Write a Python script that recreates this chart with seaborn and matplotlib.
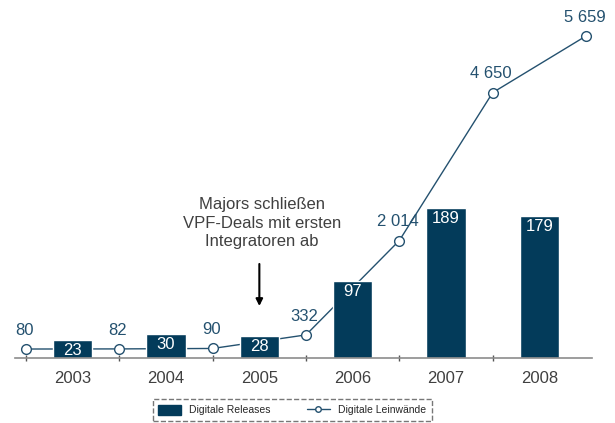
import matplotlib
matplotlib.use("Agg")
import matplotlib.pyplot as plt
import seaborn as sns
from matplotlib.patches import Patch
from matplotlib.lines import Line2D

years = ["2003", "2004", "2005", "2006", "2007", "2008"]
releases = [23, 30, 28, 97, 189, 179]
screens = [80, 82, 90, 332, 2014, 4650, 5659]
note = "Majors schließen\nVPF-Deals mit ersten\nIntegratoren ab"

bar_col = "#033b5a"
line_col = "#24516f"
txt_col = "#404040"

sns.set_theme(style="white")
plt.rcParams["font.family"] = ["Liberation Sans", "DejaVu Sans"]

fig = plt.figure(figsize=(6.15, 4.23), dpi=100)
# axes placed in pixel terms: x 15..592, baseline y=358, top y=20
ax = fig.add_axes([15 / 615, (423 - 358) / 423, 577 / 615, (358 - 20) / 423])

bar_x = list(range(len(years)))
sns.barplot(x=bar_x, y=releases, native_scale=True, width=0.42,
            color=bar_col, saturation=1, ax=ax)
ax.set_xlim(-0.618, 5.564)
ax.set_ylim(0, 426)

for x, v in zip(bar_x, releases):
    ax.annotate(str(v), (x, v), xytext=(0, -2), textcoords="offset points",
                ha="center", va="top", color="white", fontsize=12)

# line on a twin axis, drawn behind the bars
ax2 = ax.twinx()
ax.set_zorder(2)
ax.patch.set_visible(False)
ax2.set_zorder(1)
line_x = [i - 0.5 for i in range(len(screens))]
sns.lineplot(x=line_x, y=screens, ax=ax2, color=line_col, lw=1,
             marker="o", markersize=7, markerfacecolor="white",
             markeredgecolor=line_col, markeredgewidth=1)
ax2.set_ylim(-80, 5944)
for x, v in zip(line_x, screens):
    ax2.annotate(f"{v:,}".replace(",", " "), (x, v), xytext=(-1, 8),
                 textcoords="offset points", ha="center", va="bottom",
                 color=line_col, fontsize=12)

# annotation with arrow over 2005
ax.text(2.03, 137, note, ha="center", va="bottom", color=txt_col,
        fontsize=12, linespacing=1.3)
ax.annotate("", xy=(2.0, 62), xytext=(2.0, 122),
            arrowprops=dict(arrowstyle="-|>", color="black", lw=1.5,
                            mutation_scale=10))

for a in (ax, ax2):
    for s in ["top", "right", "left"]:
        a.spines[s].set_visible(False)
    a.set_yticks([])
    a.set_ylabel("")
ax2.spines["bottom"].set_visible(False)
ax.spines["bottom"].set_color("#8c8c8c")
ax.spines["bottom"].set_linewidth(1.2)

ax.set_xticks(bar_x)
ax.set_xticklabels(years, color=txt_col, fontsize=12)
ax.set_xticks([i - 0.5 for i in range(len(years))], minor=True)
ax.tick_params(axis="x", which="major", length=0, pad=9)
ax.tick_params(axis="x", which="minor", length=5, direction="inout",
               color="#555555", width=1, bottom=True)
ax2.tick_params(axis="x", length=0)

handles = [Patch(facecolor=bar_col, edgecolor=bar_col),
           Line2D([0], [0], color=line_col, lw=1, marker="o", markersize=4,
                  markerfacecolor="white", markeredgecolor=line_col)]
leg = fig.legend(handles, ["Digitale Releases", "Digitale Leinwände"],
                 loc="center", bbox_to_anchor=(292 / 615, 13 / 423), ncol=2,
                 fontsize=7.5, frameon=True, fancybox=False,
                 handlelength=2.2, handleheight=1.2, columnspacing=3.5,
                 borderpad=0.5)
leg.get_frame().set_edgecolor("#555555")
leg.get_frame().set_linestyle("--")
leg.get_frame().set_linewidth(1)

fig.savefig("out.png", dpi=100)
